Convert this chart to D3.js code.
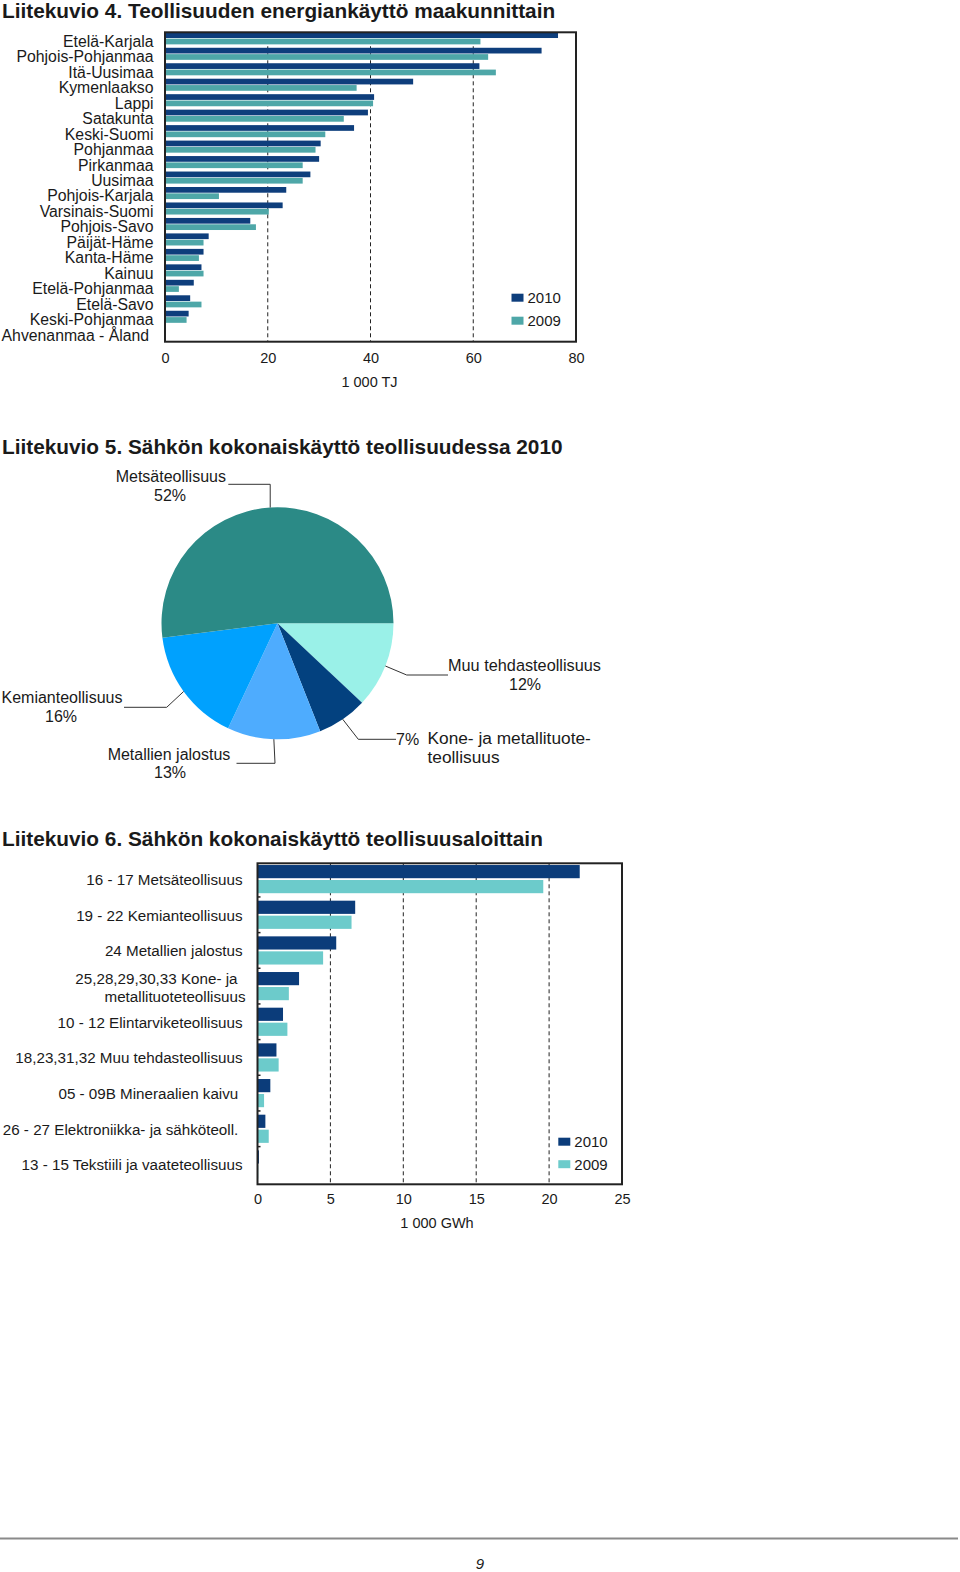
<!DOCTYPE html>
<html>
<head>
<meta charset="utf-8">
<script src="https://cdn.jsdelivr.net/npm/d3@7"></script>
<style>
  html, body { margin: 0; padding: 0; background: #fff; }
  svg { display: block; }
  text { font-family: "Liberation Sans", Arial, sans-serif; fill: #1a1a1a; }
  .pre { white-space: pre; }
</style>
</head>
<body>
<svg id="page" width="960" height="1572"></svg>
<script>
// ---------------- DATA ----------------
const titles = [
  "Liitekuvio 4. Teollisuuden energiankäyttö maakunnittain",
  "Liitekuvio 5. Sähkön kokonaiskäyttö teollisuudessa 2010",
  "Liitekuvio 6. Sähkön kokonaiskäyttö teollisuusaloittain"
];
const seriesNames = ["2010", "2009"];

// Chart 1: 1 000 TJ by region
const regions = ["Etelä-Karjala", "Pohjois-Pohjanmaa", "Itä-Uusimaa", "Kymenlaakso", "Lappi",
  "Satakunta", "Keski-Suomi", "Pohjanmaa", "Pirkanmaa", "Uusimaa", "Pohjois-Karjala",
  "Varsinais-Suomi", "Pohjois-Savo", "Päijät-Häme", "Kanta-Häme", "Kainuu",
  "Etelä-Pohjanmaa", "Etelä-Savo", "Keski-Pohjanmaa", "Ahvenanmaa - Åland "];
const regions2010 = [76.5, 73.3, 61.2, 48.3, 40.7, 39.5, 36.8, 30.3, 30.0, 28.3, 23.6,
  22.9, 16.6, 8.5, 7.5, 7.1, 5.6, 4.9, 4.6, 0.1];
const regions2009 = [61.4, 62.9, 64.4, 37.3, 40.5, 34.8, 31.2, 29.3, 26.8, 26.8, 10.5,
  20.2, 17.7, 7.5, 6.6, 7.5, 2.7, 7.1, 4.2, 0.1];
const regionTicks = [0, 20, 40, 60, 80];
const regionUnit = "1 000 TJ";

// Chart 2: pie (clockwise from 3 o'clock)
const pieCategories = ["Muu tehdasteollisuus", "Kone- ja metallituoteteollisuus",
  "Metallien jalostus", "Kemianteollisuus", "Metsäteollisuus"];
const pieValues = [12, 7, 13, 16, 52];

// Chart 3: 1 000 GWh by industry
const industries = ["16 - 17 Metsäteollisuus", "19 - 22 Kemianteollisuus", "24 Metallien jalostus",
  "25,28,29,30,33 Kone- ja|metallituoteteollisuus", "10 - 12 Elintarviketeollisuus",
  "18,23,31,32 Muu tehdasteollisuus", "05 - 09B Mineraalien kaivu ",
  "26 - 27 Elektroniikka- ja sähköteoll. ", "13 - 15 Tekstiili ja vaateteollisuus"];
const industries2010 = [22.1, 6.7, 5.4, 2.85, 1.75, 1.3, 0.88, 0.54, 0.1];
const industries2009 = [19.6, 6.45, 4.5, 2.15, 2.05, 1.45, 0.45, 0.77, 0.05];
const industryTicks = [0, 5, 10, 15, 20, 25];
const industryUnit = "1 000 GWh";
const pageNumber = "9";

// ---------------- DRAWING ----------------
const svg = d3.select("#page");
svg.append("rect").attr("width", 960).attr("height", 1572).attr("fill", "#fff");

const titleY = [18, 454, 846];
titles.forEach((t, i) => {
  svg.append("text").attr("x", 2).attr("y", titleY[i])
    .attr("font-size", 20.8).attr("font-weight", "bold").attr("fill", "#000").text(t);
});

function barChart(opt) {
  const g = svg.append("g");
  const x = d3.scaleLinear().domain([0, opt.ticks[opt.ticks.length - 1]]).range([opt.x0, opt.x1]);
  const y = d3.scaleBand().domain(opt.categories).range([opt.y0, opt.y1])
    .paddingInner(opt.padIn).paddingOuter(opt.padOut).align(opt.align);
  const s = d3.scaleBand().domain(seriesNames).range([0, y.bandwidth()]).paddingInner(opt.subPad);

  // gridlines
  g.selectAll(".grid").data(opt.ticks.slice(1, -1)).join("line")
    .attr("x1", d => x(d)).attr("x2", d => x(d))
    .attr("y1", opt.y0).attr("y2", opt.y1)
    .attr("stroke", "#222").attr("stroke-width", 1).attr("stroke-dasharray", "4,3");

  const rows = opt.categories.map((c, i) => ({ c, vals: [opt.v2010[i], opt.v2009[i]] }));
  const grp = g.selectAll(".row").data(rows).join("g").attr("transform", d => `translate(0,${y(d.c)})`);
  grp.selectAll("rect").data(d => d.vals.map((v, k) => ({ k: seriesNames[k], v }))).join("rect")
    .attr("x", x(0)).attr("y", d => s(d.k))
    .attr("width", d => x(d.v) - x(0)).attr("height", s.bandwidth())
    .attr("fill", d => d.k === "2010" ? opt.dark : opt.light);

  if (opt.catTicks) {
    g.selectAll(".ct").data(opt.categories.slice(1)).join("line")
      .attr("x1", opt.x0).attr("x2", opt.x0 + 3)
      .attr("y1", d => y(d) - y.step() * y.paddingInner() / 2)
      .attr("y2", d => y(d) - y.step() * y.paddingInner() / 2)
      .attr("stroke", "#222").attr("stroke-width", 1.5);
  }

  // frame
  g.append("rect").attr("x", opt.x0).attr("y", opt.y0)
    .attr("width", opt.x1 - opt.x0).attr("height", opt.y1 - opt.y0)
    .attr("fill", "none").attr("stroke", "#222").attr("stroke-width", 2);

  // category labels
  const lab = g.selectAll(".lab").data(opt.categories).join("text")
    .attr("class", "pre").attr("text-anchor", "end").attr("font-size", opt.labelSize);
  lab.each(function (d) {
    const lines = d.split("|");
    const el = d3.select(this);
    const cy = y(d) + opt.labelShift;
    if (lines.length === 1) {
      el.attr("x", opt.labelX).attr("y", cy + opt.labelSize * 0.36).text(d);
    } else {
      lines.forEach((ln, j) => {
        el.append("tspan").attr("x", opt.multiX[j])
          .attr("y", cy + opt.labelSize * 0.36 + (j - (lines.length - 1) / 2) * opt.lineH + 1)
          .text(ln);
      });
    }
  });

  // x axis
  const ax = g.append("g").attr("transform", `translate(0,${opt.y1})`)
    .call(d3.axisBottom(x).tickValues(opt.ticks).tickSize(0).tickPadding(opt.tickPad).tickFormat(d3.format("d")));
  ax.select(".domain").remove();
  ax.selectAll("text").attr("font-size", 14.5).attr("font-family", "Liberation Sans, Arial, sans-serif").attr("fill", "#1a1a1a");

  g.append("text").attr("x", opt.unitX).attr("y", opt.unitY).attr("text-anchor", "middle")
    .attr("font-size", 14.5).text(opt.unit);

  // legend
  seriesNames.forEach((n, k) => {
    g.append("rect").attr("x", opt.legX).attr("y", opt.legY + k * opt.legStep)
      .attr("width", 12).attr("height", 8).attr("fill", k === 0 ? opt.dark : opt.light);
    g.append("text").attr("x", opt.legX + 16).attr("y", opt.legY + k * opt.legStep + 9.5)
      .attr("font-size", 15).text(n);
  });
  return y;
}

barChart({
  categories: regions, v2010: regions2010, v2009: regions2009, ticks: regionTicks,
  x0: 165, x1: 576, y0: 32.3, y1: 341.7, padIn: 0.22, padOut: 0.11, align: 0, subPad: 0.1,
  dark: "#0e3e7c", light: "#4ea7a8", labelX: 153.5, labelSize: 15.8, lineH: 18, labelShift: 8.8,
  tickPad: 11, unit: regionUnit, unitX: 369.5, unitY: 386.5,
  legX: 511.5, legY: 293.7, legStep: 23, catTicks: false
});

barChart({
  categories: industries, v2010: industries2010, v2009: industries2009, ticks: industryTicks,
  x0: 257.5, x1: 622, y0: 863.3, y1: 1184.3, padIn: 0.21, padOut: 0.105, align: 0.23, subPad: 0.12,
  dark: "#0b3c7a", light: "#6ccbcb", labelX: 242.5, labelSize: 15.2, lineH: 17.5, multiX: [237.5, 245.5],
  labelShift: 14.6,
  tickPad: 9.5, unit: industryUnit, unitX: 437, unitY: 1227.5,
  legX: 558.3, legY: 1137.7, legStep: 22.5, catTicks: true
});

// ---------------- PIE ----------------
const pieColors = {
  "Metsäteollisuus": "#2b8a86",
  "Muu tehdasteollisuus": "#9af1e8",
  "Kone- ja metallituoteteollisuus": "#03417f",
  "Metallien jalostus": "#4eacfe",
  "Kemianteollisuus": "#00a1fe"
};
const cx = 277.5, cy = 623.3, R = 116;
const pieData = pieCategories.map((c, i) => ({ c, v: pieValues[i] }));
const arcs = d3.pie().value(d => d.v).sort(null)
  .startAngle(Math.PI / 2).endAngle(Math.PI / 2 + 2 * Math.PI)(pieData);
const arcGen = d3.arc().innerRadius(0).outerRadius(R);
const pg = svg.append("g").attr("transform", `translate(${cx},${cy})`);
pg.selectAll("path").data(arcs).join("path").attr("d", arcGen)
  .attr("fill", d => pieColors[d.data.c]);

// label layout (page coordinates)
const pieLayout = {
  "Metsäteollisuus": { path: p => [[p[0], 484.3], [228.3, 484.3]],
    lines: [{ t: "Metsäteollisuus", x: 170.8, y: 481.5, a: "middle", s: 16 }, { t: "%", x: 170, y: 500.5, a: "middle", s: 16 }] },
  "Muu tehdasteollisuus": { path: p => [[406.7, 675], [448, 675]],
    lines: [{ t: "Muu tehdasteollisuus", x: 448, y: 670.5, a: "start", s: 16.3 }, { t: "%", x: 525, y: 689.5, a: "middle", s: 16 }] },
  "Kone- ja metallituoteteollisuus": { path: p => [[358.3, 739.3], [396, 739.3]],
    lines: [{ t: "%", x: 396, y: 745, a: "start", s: 16 }, { t: "Kone- ja metallituote-", x: 427.5, y: 743.5, a: "start", s: 17.3 },
            { t: "teollisuus", x: 427.5, y: 763, a: "start", s: 17.3 }] },
  "Metallien jalostus": { path: p => [[275, 763.3], [236.5, 763.3]],
    lines: [{ t: "Metallien jalostus", x: 169, y: 760, a: "middle", s: 16 }, { t: "%", x: 170, y: 778, a: "middle", s: 16 }] },
  "Kemianteollisuus": { path: p => [[166.7, 707.3], [124, 707.3]],
    lines: [{ t: "Kemianteollisuus", x: 62, y: 703, a: "middle", s: 16 }, { t: "%", x: 61, y: 721.5, a: "middle", s: 16 }] }
};
arcs.forEach(d => {
  const mid = (d.startAngle + d.endAngle) / 2;
  const p = [cx + R * Math.sin(mid), cy - R * Math.cos(mid)];
  const L = pieLayout[d.data.c];
  const pts = [p].concat(L.path(p));
  svg.append("path").attr("d", d3.line()(pts)).attr("fill", "none")
    .attr("stroke", "#333").attr("stroke-width", 1);
  L.lines.forEach(ln => {
    svg.append("text").attr("x", ln.x).attr("y", ln.y).attr("text-anchor", ln.a)
      .attr("font-size", ln.s).text(ln.t === "%" ? d.data.v + "%" : ln.t);
  });
});

// ---------------- FOOTER ----------------
svg.append("line").attr("x1", 0).attr("x2", 958).attr("y1", 1538.5).attr("y2", 1538.5)
  .attr("stroke", "#8a8a8a").attr("stroke-width", 2);
svg.append("text").attr("x", 480).attr("y", 1569).attr("text-anchor", "middle")
  .attr("font-size", 15).attr("font-style", "italic").text(pageNumber);
</script>
</body>
</html>
